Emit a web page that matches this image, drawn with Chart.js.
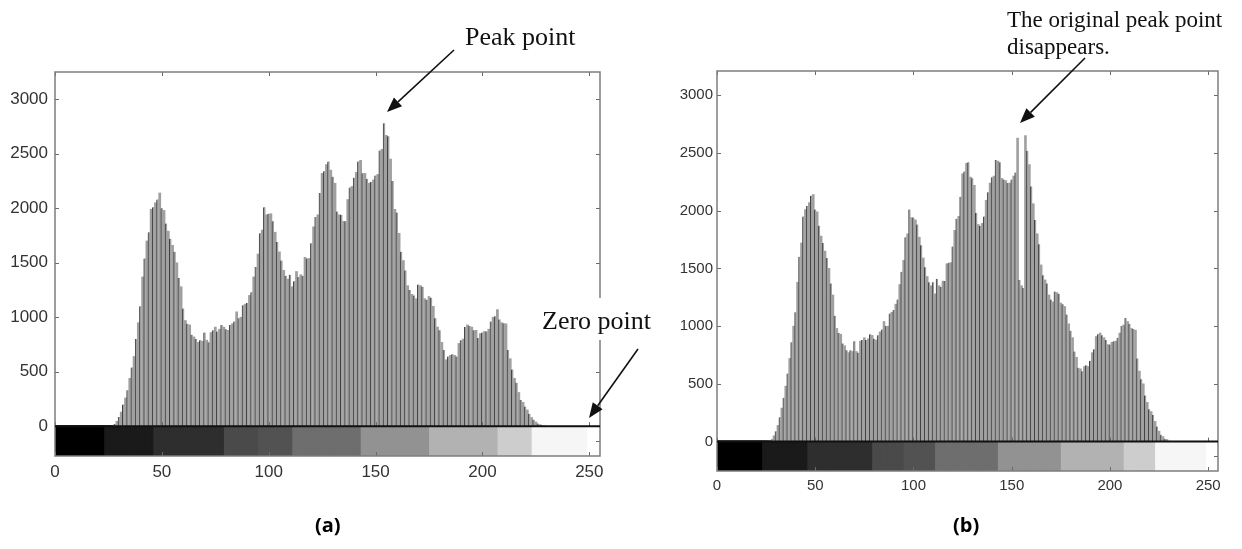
<!DOCTYPE html>
<html><head><meta charset="utf-8">
<script src="https://cdn.jsdelivr.net/npm/chart.js@4.4.1/dist/chart.umd.min.js"></script>
<style>
html,body{margin:0;padding:0;background:#fff;width:1242px;height:549px;overflow:hidden;position:relative}
#wa{position:absolute;left:0;top:0;width:670px;height:549px}
#wb{position:absolute;left:660px;top:0;width:582px;height:549px}
.lbl{position:absolute;font:bold 20px "Open Sans","Liberation Sans",sans-serif;color:#000;line-height:24px}
</style></head><body>
<div id="wa"><canvas id="ca" width="670" height="549"></canvas></div>
<div id="wb"><canvas id="cb" width="582" height="549"></canvas></div>
<div class="lbl" style="left:315px;top:513px">(a)</div>
<div class="lbl" style="left:953px;top:513px">(b)</div>
<script>
// gray levels (categories) 0..255
const grayLevels = [];
for (let i = 0; i < 256; i++) grayLevels.push(i);

// histogram (a): original image
const histA = [
  0,0,0,0,0,0,0,0,0,0,
  0,0,0,0,0,0,0,0,0,0,
  0,0,0,0,0,0,0,5,20,45,
  85,130,200,260,330,440,540,640,800,950,
  1100,1370,1540,1700,1780,1990,2010,2050,2080,2140,
  2000,1980,1860,1790,1720,1660,1600,1500,1360,1280,
  1080,970,940,930,840,820,800,770,790,780,
  860,790,770,860,880,910,870,890,930,910,
  890,880,930,940,960,1050,990,1000,1110,1120,
  1130,1200,1230,1370,1460,1580,1770,1800,2010,1940,
  1950,1950,1880,1780,1690,1600,1520,1430,1380,1350,
  1390,1280,1330,1420,1370,1390,1380,1550,1540,1540,
  1680,1830,1920,1940,2140,2320,2340,2400,2430,2350,
  2290,2230,1970,1940,1940,1880,1880,2080,2190,2200,
  2280,2330,2430,2440,2320,2320,2270,2230,2240,2260,
  2300,2310,2530,2540,2780,2670,2660,2450,2250,1990,
  1960,1770,1600,1520,1430,1290,1250,1210,1200,1170,
  1300,1290,1280,1170,1160,1190,1180,1100,990,910,
  880,770,700,610,640,650,660,650,640,760,
  790,800,910,930,920,910,880,880,810,850,
  860,870,870,890,960,1000,1010,1070,980,950,
  945,940,700,620,520,440,400,310,240,220,
  180,150,115,80,60,40,25,15,10,5,
  0,0,0,0,0,0,0,0,0,0,
  0,0,0,0,0,0,0,0,0,0,
  0,0,0,0,0,0
];

// histogram (b): after shifting, peak point split
const histB = [
  0,0,0,0,0,0,0,0,0,0,
  0,0,0,0,0,0,0,0,0,0,
  0,0,0,0,0,0,0,6,20,50,
  90,140,210,290,380,480,590,720,860,1000,
  1120,1380,1600,1720,1950,2010,2040,2070,2130,2140,
  2010,1990,1870,1780,1720,1650,1590,1500,1370,1270,
  1090,980,940,930,850,830,790,770,790,780,
  870,780,770,870,880,900,880,890,930,920,
  890,880,920,950,970,1040,1000,1000,1110,1120,
  1140,1190,1230,1360,1470,1570,1770,1800,2010,1940,
  1940,1920,1880,1770,1700,1590,1510,1430,1380,1350,
  1380,1280,1410,1350,1340,1390,1390,1540,1550,1550,
  1690,1830,1930,1950,2120,2320,2340,2410,2420,2290,
  2280,2220,1980,1880,1870,1890,1950,2090,2160,2240,
  2290,2300,2440,2430,2420,2280,2270,2260,2240,2240,
  2270,2300,2330,2630,1400,1350,1330,2650,2520,2400,
  2210,2060,1920,1800,1710,1530,1440,1400,1370,1270,
  1230,1210,1300,1290,1280,1200,1190,1170,1100,1020,
  960,900,780,730,640,630,610,650,660,650,
  700,770,800,910,930,940,920,900,880,840,
  840,860,870,870,900,940,1000,1010,1070,1040,
  1020,980,975,965,720,610,540,500,400,340,
  280,260,230,175,130,90,60,43,25,18,
  8,3,0,0,0,0,0,0,0,0,
  0,0,0,0,0,0,0,0,0,0,
  0,0,0,0,0,0
];

// tick labels
const xTicks = [0, 50, 100, 150, 200, 250];
const yTicks = [0, 500, 1000, 1500, 2000, 2500, 3000];

// gray colour bar bands (start level of each band, gray value of the band)
const bandStart = [0, 24, 47, 80, 96, 112, 144, 176, 208, 224, 250];
const bandGray  = [0, 26, 46, 74, 82, 110, 146, 178, 205, 246, 255];

function bandColor(level){
  let k = 0;
  for (let j = 0; j < bandStart.length; j++) if (level >= bandStart[j]) k = j;
  const g = bandGray[k];
  return 'rgb(' + g + ',' + g + ',' + g + ')';
}

const framePlugin = {
  id: 'frame',
  afterDatasetsDraw(chart, args, o){
    const {ctx, chartArea: a, scales: {x, y}} = chart;
    const y0 = y.getPixelForValue(0);
    ctx.save();
    ctx.strokeStyle = '#6a6a6a';
    ctx.lineWidth = 1;
    const L = o.tickLen;
    ctx.beginPath();
    xTicks.forEach(v => {
      const px = Math.round(x.getPixelForValue(v)) + 0.5;
      ctx.moveTo(px, a.top); ctx.lineTo(px, a.top + L);
      ctx.moveTo(px, y0); ctx.lineTo(px, y0 - L);
      ctx.moveTo(px, a.bottom); ctx.lineTo(px, a.bottom - L);
    });
    yTicks.forEach(v => {
      if (v === 0) return;
      const py = Math.round(y.getPixelForValue(v)) + 0.5;
      ctx.moveTo(a.left, py); ctx.lineTo(a.left + L, py);
      ctx.moveTo(a.right, py); ctx.lineTo(a.right - L, py);
    });
    const pm = Math.round((y0 + a.bottom) / 2) + 0.5;
    ctx.moveTo(a.right, pm); ctx.lineTo(a.right - L, pm);
    ctx.stroke();
    ctx.strokeStyle = '#7d7d7d';
    ctx.lineWidth = 1.5;
    ctx.strokeRect(a.left, a.top, a.right - a.left, a.bottom - a.top);
    ctx.strokeStyle = '#111';
    ctx.lineWidth = 2;
    ctx.beginPath(); ctx.moveTo(a.left, y0); ctx.lineTo(a.right, y0); ctx.stroke();
    ctx.restore();
  }
};

const notesPlugin = {
  id: 'notes',
  afterDraw(chart, args, o){
    const ctx = chart.ctx;
    ctx.save();
    (o.items || []).forEach(it => {
      ctx.font = it.font;
      if (it.bg) { ctx.fillStyle = '#fff'; ctx.fillRect(it.bg[0], it.bg[1], it.bg[2], it.bg[3]); }
      ctx.fillStyle = '#111';
      ctx.textAlign = 'left';
      ctx.textBaseline = 'alphabetic';
      it.lines.forEach((t, i) => ctx.fillText(t, it.x, it.y + i * it.lh));
      const [x1, y1, x2, y2] = it.arrow;
      const ang = Math.atan2(y2 - y1, x2 - x1);
      const hl = 15, hw = 6;
      const bx = x2 - hl * Math.cos(ang), by = y2 - hl * Math.sin(ang);
      ctx.strokeStyle = '#111'; ctx.lineWidth = 1.6;
      ctx.beginPath(); ctx.moveTo(x1, y1); ctx.lineTo(bx, by); ctx.stroke();
      ctx.beginPath();
      ctx.moveTo(x2, y2);
      ctx.lineTo(bx + hw * Math.sin(ang), by - hw * Math.cos(ang));
      ctx.lineTo(bx - hw * Math.sin(ang), by + hw * Math.cos(ang));
      ctx.closePath(); ctx.fillStyle = '#111'; ctx.fill();
    });
    ctx.restore();
  }
};

function makeChart(id, hist, c){
  return new Chart(document.getElementById(id), {
    type: 'bar',
    data: {
      datasets: [
        {
          data: grayLevels.map(i => ({x: i, y: hist[i]})),
          backgroundColor: '#a0a0a0',
          borderColor: '#404040',
          borderWidth: ctx => (ctx.dataIndex % 2 === 0 ? {left: 1, top: 0, right: 0, bottom: 0} : 0),
          grouped: false, barPercentage: 1, categoryPercentage: 1, order: 1
        },
        {
          data: grayLevels.map(i => ({x: i, y: [c.ymin, 0]})),
          backgroundColor: grayLevels.map(i => bandColor(i)),
          borderWidth: 0, inflateAmount: 1,
          grouped: false, barPercentage: 1, categoryPercentage: 1, order: 2
        }
      ]
    },
    options: {
      responsive: false, animation: false, devicePixelRatio: 1,
      layout: {padding: {left: 0, right: c.padR, top: c.padT, bottom: c.padB}},
      plugins: {
        legend: {display: false}, tooltip: {enabled: false},
        frame: {tickLen: 4},
        notes: {items: c.notes}
      },
      scales: {
        x: {
          type: 'linear', min: 0, max: 255, offset: false,
          grid: {display: false, drawTicks: false}, border: {display: false},
          ticks: {font: {family: 'Liberation Sans', size: c.fs}, color: '#333', padding: c.xpad, maxRotation: 0, autoSkip: false,
                  callback: v => String(v)},
          afterBuildTicks: s => { s.ticks = xTicks.map(v => ({value: v})); },
          afterFit: s => { s.height = c.xh; }
        },
        y: {
          min: c.ymin, max: c.ymax,
          grid: {display: false, drawTicks: false}, border: {display: false},
          ticks: {font: {family: 'Liberation Sans', size: c.fs}, color: '#333', padding: c.ypad,
                  callback: v => String(v)},
          afterBuildTicks: s => { s.ticks = yTicks.map(v => ({value: v})); },
          afterFit: s => { s.width = c.yw; }
        }
      }
    },
    plugins: [framePlugin, notesPlugin]
  });
}

makeChart('ca', histA, {
  ymin: -273, ymax: 3250, padR: 70, padT: 72, padB: 63, xh: 30, yw: 55, fs: 17, xpad: 6, ypad: 7,
  notes: [
    {lines: ['Peak point'], x: 465, y: 45, lh: 0, font: '26px "Liberation Serif"', arrow: [454, 50, 387, 112]},
    {lines: ['Zero point'], x: 542, y: 329, lh: 0, font: '26px "Liberation Serif"', bg: [537, 298, 125, 42], arrow: [638, 349, 589, 418]}
  ]
});

makeChart('cb', histB, {
  ymin: -255, ymax: 3210, padR: 24, padT: 71, padB: 48, xh: 30, yw: 57, fs: 15, xpad: 6, ypad: 4,
  notes: [
    {lines: ['The original peak point', 'disappears.'], x: 347, y: 27, lh: 26.5, font: '23px "Liberation Serif"', arrow: [425, 58, 360, 123]}
  ]
});
</script>
</body></html>
